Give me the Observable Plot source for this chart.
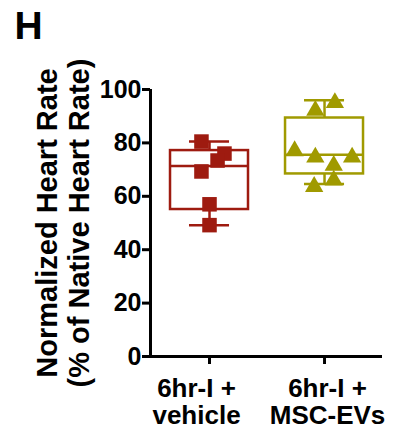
<!DOCTYPE html>
<html>
<head>
<meta charset="utf-8">
<script src="https://cdn.jsdelivr.net/npm/d3@7"></script>
<script src="https://cdn.jsdelivr.net/npm/@observablehq/plot@0.6"></script>
<style>
  html, body { margin: 0; padding: 0; background: #fff; }
  #chart svg { display: block; }
</style>
</head>
<body>
<div id="chart"></div>
<script>
// ---- data ----
const categories = ["6hr-I +\nvehicle", "6hr-I +\nMSC-EVs"];
const vehicleValues = [80.5, 76.0, 73.4, 69.3, 57.0, 49.2];
const vehicleSpread = [-0.07, 0.13, 0.07, -0.07, 0.0, 0.0];
const mscValues = [93.1, 96.0, 78.0, 75.6, 75.6, 72.5, 67.0, 64.6];
const mscSpread = [-0.08, 0.09, -0.26, -0.08, 0.24, 0.08, 0.08, -0.09];
const yTicks = [0, 20, 40, 60, 80, 100];
const yTitle1 = "Normalized Heart Rate";
const yTitle2 = "(% of Native Heart Rate)";
const panelLabel = "H";
const colors = ["#9e1b10", "#a09a00"];

// quantile with (n+1)p positions (GraphPad style)
function q6(values, p) {
  const s = values.slice().sort((a, b) => a - b);
  const n = s.length;
  let h = (n + 1) * p;
  if (h <= 1) return s[0];
  if (h >= n) return s[n - 1];
  const lo = Math.floor(h);
  return s[lo - 1] + (h - lo) * (s[lo] - s[lo - 1]);
}

const groups = [vehicleValues, mscValues];
const stats = groups.map((v, i) => ({
  i,
  min: d3.min(v), max: d3.max(v),
  q1: q6(v, 0.25), med: q6(v, 0.5), q3: q6(v, 0.75),
  color: colors[i]
}));
const squares = vehicleValues.map((v, k) => ({x: 0 + vehicleSpread[k], y: v}));
const tri = mscValues.map((v, k) => ({x: 1 + mscSpread[k], y: v}));

const bw = 0.339, cw = 0.174;
const xDomain = [-0.513, 1.504];

const font = "'Liberation Sans', Arial, Helvetica, sans-serif";
const labelOpts = {tickSize: 0, tickPadding: 21, fontSize: 26, label: null, fontWeight: "bold", lineHeight: 1.04, tickFormat: i => categories[i]};

const chart = Plot.plot({
  width: 393,
  height: 429,
  marginLeft: 150,
  marginRight: 11,
  marginTop: 89,
  marginBottom: 73,
  style: {fontFamily: font, fontWeight: "bold", color: "#000", background: "#fff"},
  x: {domain: xDomain},
  y: {domain: [0, 100]},
  marks: [
    // whiskers
    Plot.ruleX(stats, {x: "i", y1: "q3", y2: "max", stroke: "color", strokeWidth: 2.5}),
    Plot.ruleX(stats, {x: "i", y1: "min", y2: "q1", stroke: "color", strokeWidth: 2.5}),
    Plot.ruleY(stats, {y: "max", x1: d => d.i - cw, x2: d => d.i + cw, stroke: "color", strokeWidth: 2.5}),
    Plot.ruleY(stats, {y: "min", x1: d => d.i - cw, x2: d => d.i + cw, stroke: "color", strokeWidth: 2.5}),
    // boxes
    Plot.rect(stats, {x1: d => d.i - bw, x2: d => d.i + bw, y1: "q1", y2: "q3", fill: "white", stroke: "color", strokeWidth: 2.5}),
    Plot.ruleY(stats, {y: "med", x1: d => d.i - bw, x2: d => d.i + bw, stroke: "color", strokeWidth: 2.5}),
    // points
    Plot.dot(squares, {x: "x", y: "y", symbol: "square", r: 8.2, fill: colors[0], stroke: "none"}),
    Plot.dot(tri, {x: "x", y: "y", symbol: "triangle", r: 6.8, dy: 2.6, fill: colors[1], stroke: "none"}),
    // axes
    Plot.ruleY([0], {stroke: "#000", strokeWidth: 3}),
    Plot.ruleX([xDomain[0]], {y1: 0, y2: 100, stroke: "#000", strokeWidth: 3}),
    Plot.axisY({ticks: yTicks, tickSize: 8, tickPadding: 1, fontSize: 25, strokeWidth: 3, label: null, fontWeight: "bold"}),
    Plot.axisX({ticks: [0, 1], tickSize: 8, strokeWidth: 3, label: null, tickFormat: () => ""}),
    Plot.axisX({...labelOpts, ticks: [0], dx: -13}),
    Plot.axisX({...labelOpts, ticks: [1], dx: 3}),
    // titles
    Plot.text([yTitle1], {frameAnchor: "left", dx: -102.5, rotate: -90, textAnchor: "middle", lineAnchor: "middle", fontSize: 29, fontWeight: "bold", fill: "#000"}),
    Plot.text([yTitle2], {frameAnchor: "left", dx: -70.5, rotate: -90, textAnchor: "middle", lineAnchor: "middle", fontSize: 29, fontWeight: "bold", fill: "#000"}),
    Plot.text([panelLabel], {frameAnchor: "top-left", dx: -136, dy: -63, textAnchor: "start", lineAnchor: "middle", fontSize: 39, fontWeight: "bold", fill: "#000"})
  ]
});
document.getElementById("chart").appendChild(chart);
</script>
</body>
</html>
